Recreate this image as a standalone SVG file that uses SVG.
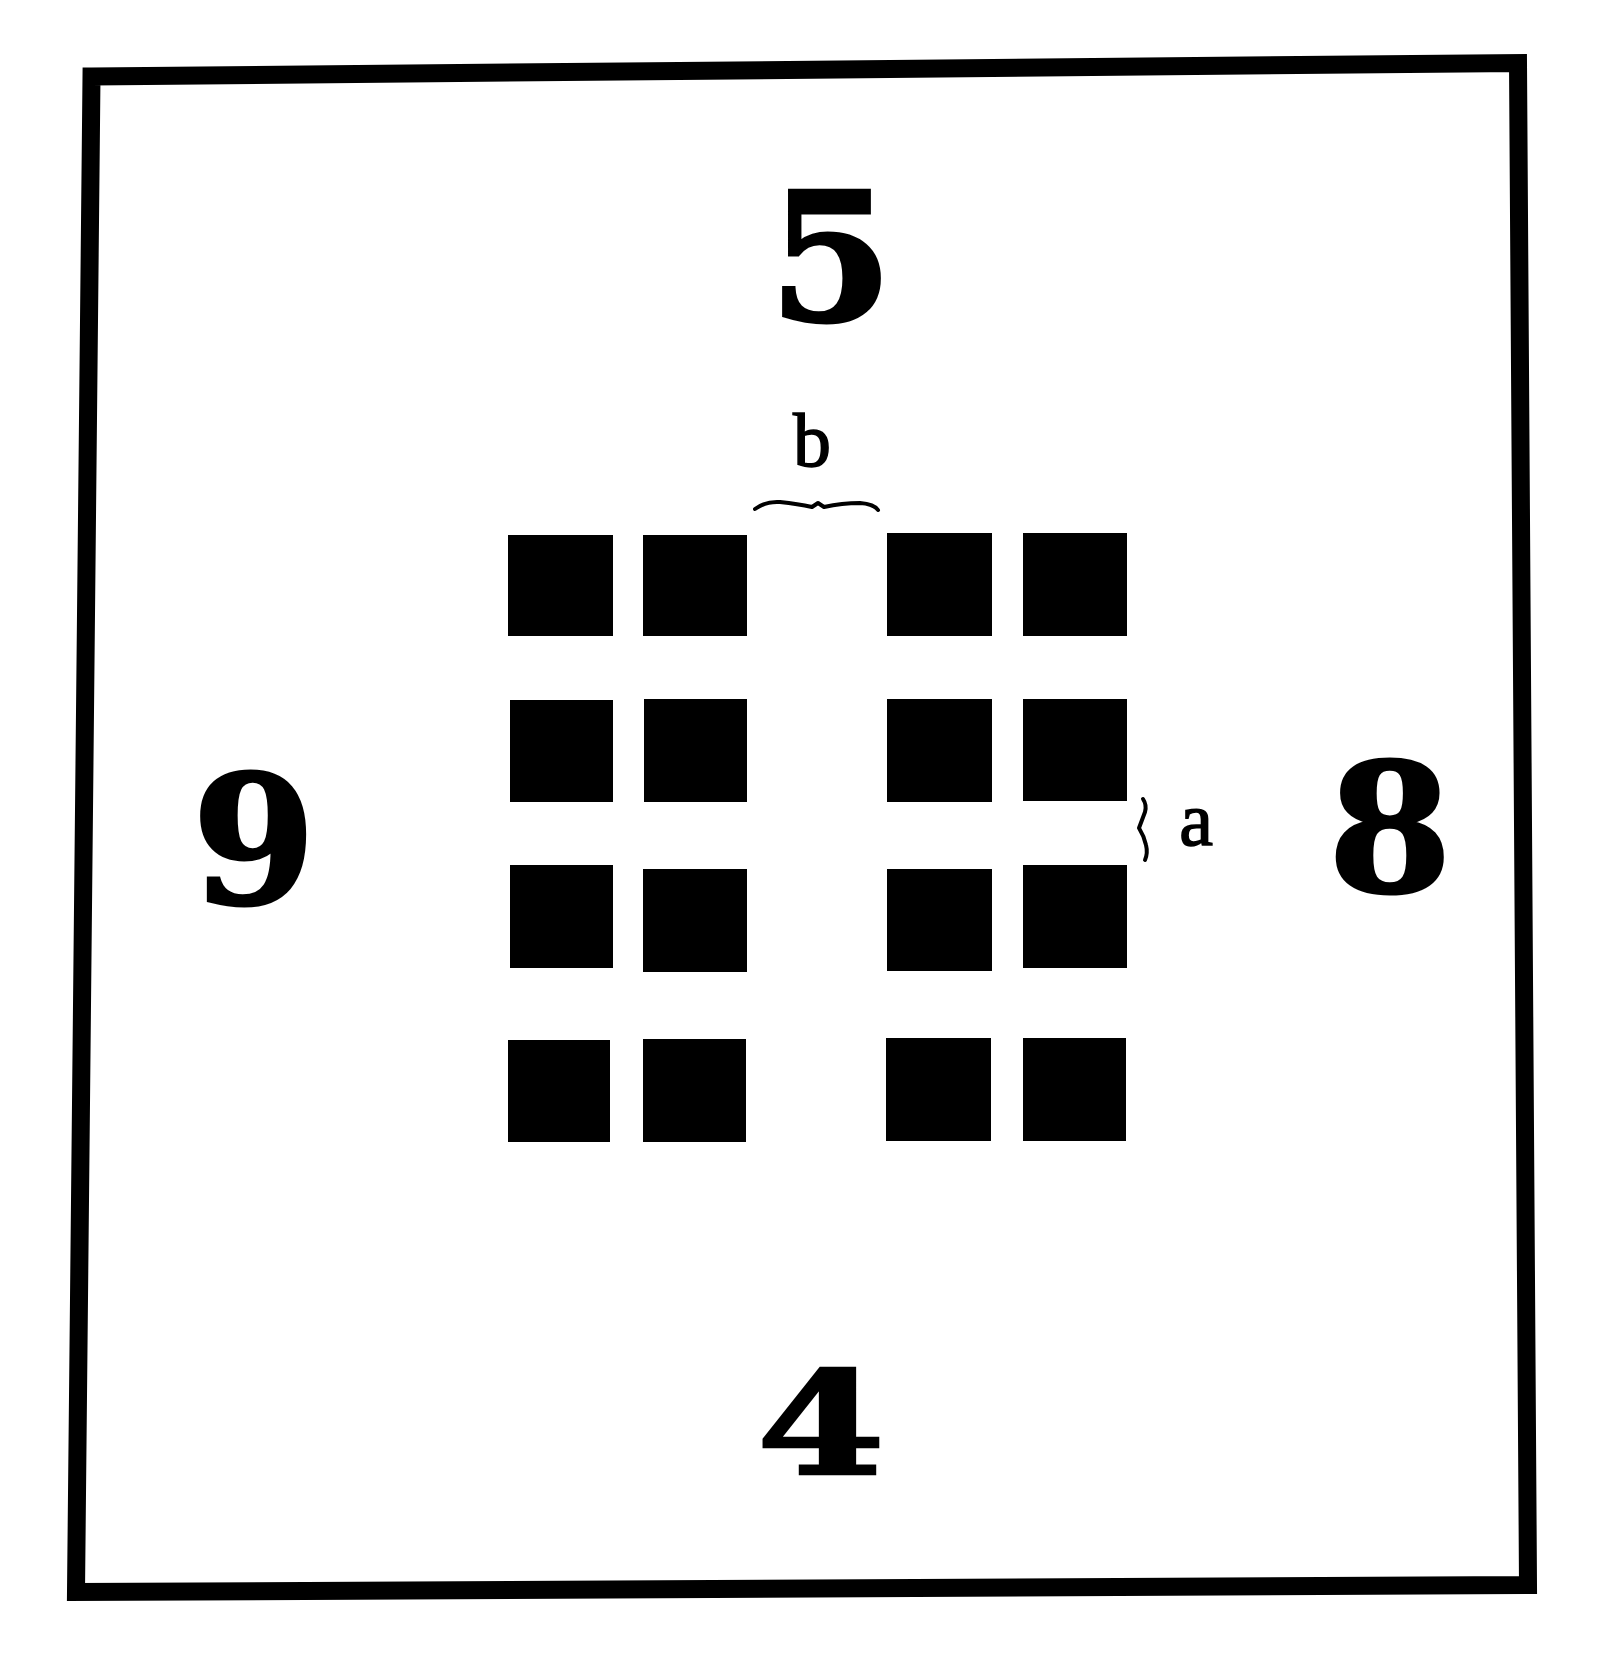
<svg xmlns="http://www.w3.org/2000/svg" width="1600" height="1655" viewBox="0 0 1600 1655">
<style>
.frame{fill:none;stroke:#000;stroke-width:18;stroke-linejoin:miter}
.sq{fill:#000}
.num{font-family:"DejaVu Serif","Liberation Serif",serif;font-weight:bold;font-size:178px;fill:#000;stroke:#000;stroke-width:3;text-anchor:middle}
.lbl{font-family:"Liberation Serif","DejaVu Serif",serif;font-size:76px;fill:#000;stroke:#000;stroke-width:1.5;text-anchor:middle}
.brace{fill:none;stroke:#000;stroke-width:4;stroke-linecap:round;stroke-linejoin:round}
</style>
<rect width="1600" height="1655" fill="#fff"/>
<g id="frame">
<path class="frame" d="M91.5,76.5 L1518,63 L1528,1585 L76,1592 Z"/>
</g>
<g id="squares">
<rect class="sq" x="508" y="535" width="105" height="101"/>
<rect class="sq" x="643" y="535" width="104" height="101"/>
<rect class="sq" x="887" y="533" width="105" height="103"/>
<rect class="sq" x="1023" y="533" width="104" height="103"/>
<rect class="sq" x="510" y="700" width="103" height="102"/>
<rect class="sq" x="644" y="699" width="103" height="103"/>
<rect class="sq" x="887" y="699" width="105" height="103"/>
<rect class="sq" x="1023" y="699" width="104" height="102"/>
<rect class="sq" x="510" y="865" width="103" height="103"/>
<rect class="sq" x="643" y="869" width="104" height="103"/>
<rect class="sq" x="887" y="869" width="105" height="102"/>
<rect class="sq" x="1023" y="865" width="104" height="103"/>
<rect class="sq" x="508" y="1040" width="102" height="102"/>
<rect class="sq" x="643" y="1039" width="103" height="103"/>
<rect class="sq" x="886" y="1038" width="105" height="103"/>
<rect class="sq" x="1023" y="1038" width="103" height="103"/>
</g>
<g id="numbers">
<text id="n5" class="num" x="831" y="320">5</text>
<text id="n9" class="num" x="254" y="903">9</text>
<text id="n8" class="num" x="1390" y="891">8</text>
<text id="n4" class="num" transform="translate(821,1474) scale(1.04,0.8)" x="0" y="0">4</text>
</g>
<g id="labels">
<text id="lb" class="lbl" x="812" y="466">b</text>
<path class="brace" d="M755,509 Q766,501 780,502 Q798,504 812,507 L818,503 L824,507 Q842,503 860,503 Q874,504 878,510"/>
<text id="la" class="lbl" x="1196" y="845">a</text>
<path class="brace" d="M1143,799 Q1147,805 1145,812 Q1142,820 1139,828 Q1144,836 1146,845 Q1148,853 1145,860"/>
</g>
</svg>
